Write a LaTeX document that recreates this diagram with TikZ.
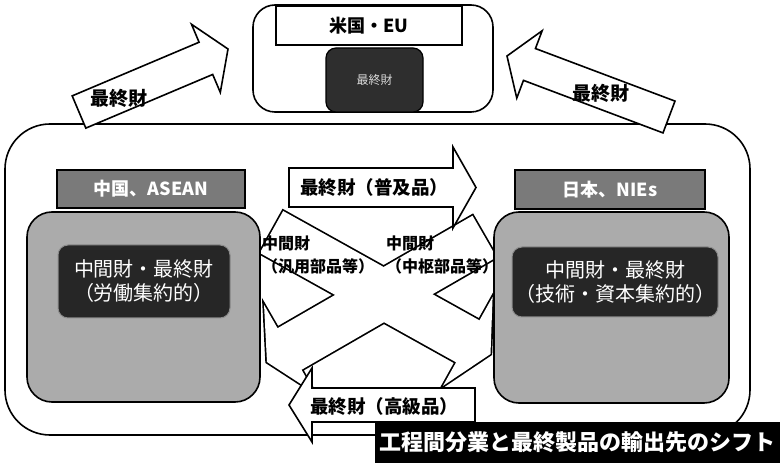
\documentclass[tikz,border=0pt]{standalone}
\usepackage{fontspec}
\usetikzlibrary{calc}
\newfontfamily\jp{Noto Sans CJK JP}
\newcommand{\fsl}[2]{\fontsize{#1}{#2}\selectfont}
% block arrow polygon: tail, tip, half shaft width, half head width, head length, path options
\newcommand{\arrpoly}[6]{%
  \path[#6] ($(#1)!#3!90:(#2)$)
    -- ($(#2)!#5!(#1)!#3!-90:(#1)$)
    -- ($(#2)!#5!(#1)!#4!-90:(#1)$)
    -- (#2)
    -- ($(#2)!#5!(#1)!#4!90:(#1)$)
    -- ($(#2)!#5!(#1)!#3!90:(#1)$)
    -- ($(#1)!#3!-90:(#2)$) -- cycle;}
\begin{document}
\begin{tikzpicture}[x=1pt,y=-1pt,
  ol/.style={draw=black,line width=1.6pt,line join=miter},
  boxn/.style={inner sep=0pt,outer sep=0pt},
  blk/.style={inner sep=0pt,text=black,font=\jp\bfseries\fsl{19}{19}},
  greybox/.style={boxn,ol,fill=black!33,rounded corners=25pt},
  headbox/.style={boxn,draw=black,line width=1.2pt,fill=black!52,text=white,font=\jp\bfseries\fsl{18}{18}},
  darkbox/.style={boxn,draw=black!45,line width=1pt,fill=black!85,rounded corners=10pt,text=white,align=center,font=\jp\fsl{20}{24}},
  xlabel/.style={anchor=north west,align=left,inner sep=0pt,font=\jp\bfseries\fsl{16}{23}},
  ]
\useasboundingbox (0,0) rectangle (780,465);
\fill[white] (0,0) rectangle (780,465);

% big Asia frame
\node[boxn,ol,fill=white,rounded corners=45pt,minimum width=745pt,minimum height=311pt] (asia) at (377.5,279.5) {};

% US / EU box
\node[boxn,ol,fill=white,rounded corners=22pt,minimum width=240pt,minimum height=107pt] (usbox) at (373,58.5) {};
\node[boxn,ol,fill=white,minimum width=186pt,minimum height=39pt,font=\jp\bfseries\fsl{18}{18}] (ushead) at (369,25.5) {米国・EU};
\node[boxn,draw=black,line width=1.2pt,fill=black!82,rounded corners=10pt,minimum width=97pt,minimum height=64pt,text=black!15,font=\jp\fsl{12}{12}] (usfinal) at (374.5,80) {最終財};

% arrows to US / EU
\coordinate (tlT) at (79,112);
\coordinate (tlP) at (228,49);
\arrpoly{tlT}{tlP}{17.5pt}{37pt}{24pt}{ol,fill=white}
\node[blk] (tlL) at (119,98) {最終財};

\coordinate (trT) at (669,117);
\coordinate (trP) at (507,56);
\arrpoly{trT}{trP}{17pt}{36pt}{24pt}{ol,fill=white}
\node[blk] (trL) at (601,93) {最終財};

% crossing intermediate-goods arrows (drawn as one outline)
\coordinate (b1T) at (271.5,232);
\coordinate (b1P) at (490.5,354);
\coordinate (b2T) at (484.5,236.5);
\coordinate (b2P) at (267,362);
\arrpoly{b1T}{b1P}{24pt}{51pt}{26pt}{draw=black,line width=3.4pt,line join=miter}
\arrpoly{b2T}{b2P}{24pt}{51pt}{26pt}{draw=black,line width=3.4pt,line join=miter}
\arrpoly{b1T}{b1P}{24pt}{51pt}{26pt}{fill=white}
\arrpoly{b2T}{b2P}{24pt}{51pt}{26pt}{fill=white}

% China / ASEAN
\node[greybox,minimum width=233pt,minimum height=190pt] (cnbox) at (143.5,307) {};
\node[headbox,minimum width=188pt,minimum height=38pt] (cnhead) at (151,189) {中国、ASEAN};
\node[darkbox,minimum width=172pt,minimum height=73pt] (cnin) at (144,281.5) {中間財・最終財\\（労働集約的）};

% Japan / NIEs
\node[greybox,minimum width=235pt,minimum height=191pt] (jpbox) at (611.5,307.5) {};
\node[headbox,minimum width=190pt,minimum height=39pt] (jphead) at (610,189.5) {日本、NIEs};
\node[darkbox,minimum width=206pt,minimum height=70pt] (jpin) at (615,282) {中間財・最終財\\（技術・資本集約的）};

% final goods arrows between the regions
\coordinate (fpT) at (289,187.5);
\coordinate (fpP) at (476,187.5);
\arrpoly{fpT}{fpP}{19.5pt}{40.5pt}{23pt}{ol,fill=white}
\node[blk,font=\jp\bfseries\fsl{18.5}{18.5}] (fpL) at (374,187) {最終財（普及品）};

\coordinate (hgT) at (475,405);
\coordinate (hgP) at (289,405);
\arrpoly{hgT}{hgP}{17pt}{37pt}{23pt}{ol,fill=white}
\node[blk,font=\jp\bfseries\fsl{18.5}{18.5}] (hgL) at (384,406) {最終財（高級品）};

% labels of the crossing arrows
\node[xlabel] (genL) at (262,236) {中間財\\（汎用部品等）};
\node[xlabel] (coreL) at (386,236) {中間財\\（中枢部品等）};

% caption bar
\node[boxn,fill=black,minimum width=405pt,minimum height=41pt,text=white,font=\jp\bfseries\fsl{22}{22}] (cap) at (577.5,442.5) {工程間分業と最終製品の輸出先のシフト};
\end{tikzpicture}
\end{document}
